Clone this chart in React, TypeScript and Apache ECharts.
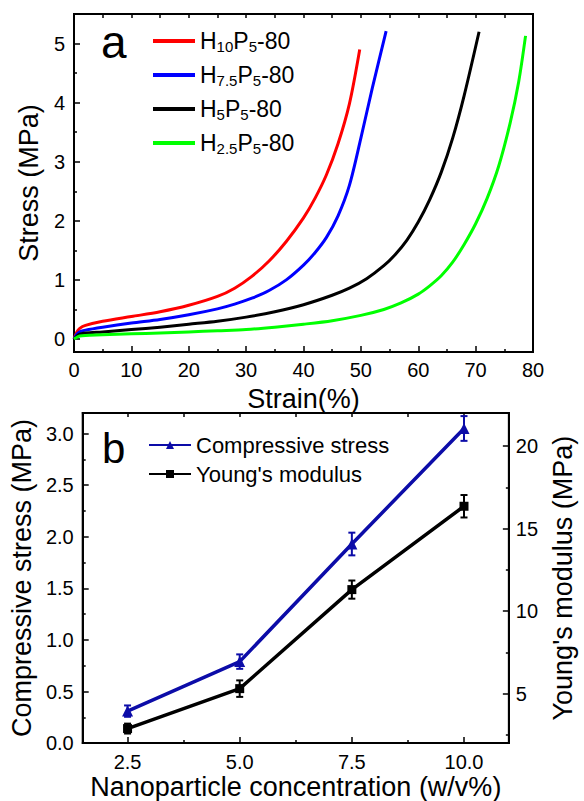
import React, { useEffect, useRef } from "react";
import * as echarts from "echarts";

// Panel a: stress-strain curves
const h10Strain = [0, 0.5, 1, 2, 5, 10, 15, 20, 25, 28, 31, 34, 37, 40, 42, 44, 46, 48, 49.8];
const h10Stress = [0, 0.12, 0.18, 0.23, 0.3, 0.38, 0.46, 0.57, 0.72, 0.86, 1.06, 1.32, 1.65, 2.05, 2.38, 2.78, 3.3, 3.98, 4.9];
const h75Strain = [0, 0.5, 1, 2, 5, 10, 15, 20, 25, 28, 31, 34, 37, 40, 42, 44, 46, 48, 50, 52, 54.4];
const h75Stress = [0, 0.08, 0.12, 0.15, 0.2, 0.27, 0.33, 0.41, 0.51, 0.59, 0.69, 0.82, 1.0, 1.25, 1.46, 1.72, 2.08, 2.6, 3.4, 4.25, 5.21];
const h5Strain = [0, 0.5, 1, 2, 5, 10, 15, 20, 25, 30, 35, 40, 45, 48, 51, 54, 56, 58, 60, 62, 64, 66, 68, 70.6];
const h5Stress = [0, 0.05, 0.08, 0.1, 0.12, 0.16, 0.2, 0.25, 0.3, 0.37, 0.46, 0.58, 0.74, 0.86, 1.02, 1.24, 1.43, 1.67, 1.98, 2.36, 2.82, 3.4, 4.12, 5.2];
const h25Strain = [0, 0.5, 1, 2, 5, 10, 15, 20, 25, 30, 35, 40, 45, 50, 54, 57, 60, 62, 64, 66, 68, 70, 72, 74, 76, 77.5, 78.7];
const h25Stress = [0, 0.03, 0.05, 0.06, 0.07, 0.09, 0.1, 0.12, 0.14, 0.16, 0.2, 0.25, 0.31, 0.4, 0.5, 0.61, 0.76, 0.9, 1.07, 1.3, 1.6, 1.95, 2.38, 2.92, 3.65, 4.35, 5.13];
const curveNames = ["H10P5-80", "H7.5P5-80", "H5P5-80", "H2.5P5-80"];
const curveLegendRich = ["H{s|10}P{s|5}-80", "H{s|7.5}P{s|5}-80", "H{s|5}P{s|5}-80", "H{s|2.5}P{s|5}-80"];
const curveColors = ["#ff0000", "#0000ff", "#000000", "#00ff00"];
const stressTicks = [0, 1, 2, 3, 4, 5];
const stressMinorTicks = [0.5, 1.5, 2.5, 3.5, 4.5];

// Panel b: compressive stress & Young's modulus
const concentration = [2.5, 5.0, 7.5, 10.0];
const compressiveStress = [0.31, 0.79, 1.93, 3.05];
const compressiveErr = [0.055, 0.07, 0.11, 0.12];
const youngsModulus = [2.88, 5.3, 11.3, 16.35];
const youngsErr = [0.3, 0.5, 0.55, 0.68];
const concTicks = [2.5, 5.0, 7.5, 10.0];
const concMinorTicks = [3.75, 6.25, 8.75];
const csTicks = [0, 0.5, 1.0, 1.5, 2.0, 2.5, 3.0];
const csMinorTicks = [0.25, 0.75, 1.25, 1.75, 2.25, 2.75];
const ymTicks = [5, 10, 15, 20];
const ymMinorTicks = [2.5, 7.5, 12.5, 17.5];

const FONT = "Liberation Sans, Arial, sans-serif";
const BLUE_B = "#0c0ca8";

const zip = (a: number[], b: number[]) => a.map((v, i) => [v, b[i]]);

function App() {
  const ref = useRef<HTMLDivElement>(null);
  useEffect(() => {
    if (!ref.current) return;
    const chart = echarts.init(ref.current, null, { renderer: "svg" });
    const axisLine = { show: true, onZero: false, lineStyle: { color: "#000", width: 2 } };
    const tickStyle = { color: "#000", width: 1.5 };
    const label = { color: "#000", fontSize: 20, fontFamily: FONT };
    const nameStyle = { color: "#000", fontSize: 27, fontFamily: FONT };

    const errorBar = (color: string) => (params: any, api: any) => {
      const x = api.value(0);
      const y = api.value(1);
      const e = api.value(2);
      const top = api.coord([x, y + e]);
      const bot = api.coord([x, y - e]);
      const w = 3.5;
      const st = { stroke: color, lineWidth: 2 };
      return {
        type: "group",
        children: [
          { type: "line", shape: { x1: top[0], y1: top[1], x2: bot[0], y2: bot[1] }, style: st },
          { type: "line", shape: { x1: top[0] - w, y1: top[1], x2: top[0] + w, y2: top[1] }, style: st },
          { type: "line", shape: { x1: bot[0] - w, y1: bot[1], x2: bot[0] + w, y2: bot[1] }, style: st },
        ],
      };
    };

    const curves = [zip(h10Strain, h10Stress), zip(h75Strain, h75Stress), zip(h5Strain, h5Stress), zip(h25Strain, h25Stress)];

    const option: any = {
      animation: false,
      backgroundColor: "#fff",
      grid: [
        { left: 74, top: 14, width: 459, height: 338, show: true, borderColor: "#000", borderWidth: 2, backgroundColor: "transparent" },
        { left: 77, top: 413, width: 449, height: 333, show: true, borderColor: "#000", borderWidth: 2, backgroundColor: "transparent" },
      ],
      xAxis: [
        {
          gridIndex: 0, type: "value", position: "bottom", min: 0, max: 80, interval: 10,
          axisLine, splitLine: { show: false },
          axisTick: { show: true, inside: true, length: 6, lineStyle: tickStyle },
          minorTick: { show: true, splitNumber: 2, length: 3, lineStyle: tickStyle },
          axisLabel: { ...label, margin: 8 },
          name: "Strain(%)", nameLocation: "middle", nameGap: 33, nameTextStyle: nameStyle,
        },
        {
          gridIndex: 0, type: "value", position: "top", min: 0, max: 80, interval: 5,
          axisLine, splitLine: { show: false },
          axisTick: { show: true, inside: true, length: 4, lineStyle: tickStyle },
          axisLabel: { show: false },
        },
        {
          gridIndex: 1, type: "value", position: "bottom", min: 1.5, max: 11,
          axisLine, splitLine: { show: false },
          axisTick: { show: true, inside: true, length: 6, lineStyle: tickStyle, customValues: concTicks },
          axisLabel: { ...label, margin: 9, customValues: concTicks, formatter: (v: number) => v.toFixed(1) },
          name: "Nanoparticle concentration (w/v%)", nameLocation: "middle", nameGap: 29, nameTextStyle: nameStyle,
        },
        {
          gridIndex: 1, type: "value", position: "bottom", min: 1.5, max: 11,
          axisLine: { show: false }, splitLine: { show: false },
          axisTick: { show: true, inside: true, length: 3, lineStyle: tickStyle, customValues: concMinorTicks },
          axisLabel: { show: false },
        },
        {
          gridIndex: 1, type: "value", position: "top", min: 1.5, max: 11,
          axisLine, splitLine: { show: false },
          axisTick: { show: true, inside: true, length: 4, lineStyle: tickStyle, customValues: [...concTicks, ...concMinorTicks] },
          axisLabel: { show: false },
        },
      ],
      yAxis: [
        {
          gridIndex: 0, type: "value", position: "left", min: -0.22, max: 5.5,
          axisLine, splitLine: { show: false },
          axisTick: { show: true, inside: true, length: 6, lineStyle: tickStyle, customValues: stressTicks },
          axisLabel: { ...label, margin: 9, customValues: stressTicks },
          name: "Stress (MPa)", nameLocation: "middle", nameGap: 30, nameTextStyle: nameStyle,
        },
        {
          gridIndex: 0, type: "value", position: "left", min: -0.22, max: 5.5,
          axisLine: { show: false }, splitLine: { show: false },
          axisTick: { show: true, inside: true, length: 3, lineStyle: tickStyle, customValues: stressMinorTicks },
          axisLabel: { show: false },
        },
        {
          gridIndex: 1, type: "value", position: "left", min: 0, max: 3.2,
          axisLine, splitLine: { show: false },
          axisTick: { show: true, inside: true, length: 6, lineStyle: tickStyle, customValues: csTicks },
          axisLabel: { ...label, margin: 9, customValues: csTicks, formatter: (v: number) => v.toFixed(1) },
          name: "Compressive stress (MPa)", nameLocation: "middle", nameGap: 42, nameTextStyle: nameStyle,
        },
        {
          gridIndex: 1, type: "value", position: "left", min: 0, max: 3.2,
          axisLine: { show: false }, splitLine: { show: false },
          axisTick: { show: true, inside: true, length: 3, lineStyle: tickStyle, customValues: csMinorTicks },
          axisLabel: { show: false },
        },
        {
          gridIndex: 1, type: "value", position: "right", min: 2, max: 22,
          axisLine, splitLine: { show: false },
          axisTick: { show: true, inside: true, length: 6, lineStyle: tickStyle, customValues: ymTicks },
          axisLabel: { ...label, margin: 7, customValues: ymTicks },
          name: "Young's modulus (MPa)", nameLocation: "middle", nameGap: 36, nameTextStyle: nameStyle,
        },
        {
          gridIndex: 1, type: "value", position: "right", min: 2, max: 22,
          axisLine: { show: false }, splitLine: { show: false },
          axisTick: { show: true, inside: true, length: 3, lineStyle: tickStyle, customValues: ymMinorTicks },
          axisLabel: { show: false },
        },
      ],
      legend: [
        {
          data: curveNames,
          orient: "vertical", left: 153, top: 28, itemGap: 8, padding: 0,
          itemWidth: 42, itemHeight: 4, icon: "rect",
          formatter: (n: string) => curveLegendRich[curveNames.indexOf(n)],
          textStyle: {
            color: "#000", fontFamily: FONT, fontSize: 23, lineHeight: 26,
            rich: {
              s: { fontSize: 15, fontFamily: FONT, color: "#000", verticalAlign: "bottom", lineHeight: 10 },
            },
          },
        },
        {
          data: ["Compressive stress", "Young's modulus"],
          orient: "vertical", left: 148, top: 433, itemGap: 5, padding: 0,
          itemWidth: 42, itemHeight: 10,
          textStyle: { color: "#000", fontFamily: FONT, fontSize: 22, lineHeight: 24 },
        },
      ],
      graphic: [
        { type: "text", left: 101, top: 19, style: { text: "a", fontSize: 46, fontFamily: FONT, fill: "#000" } },
        { type: "text", left: 102, top: 427, style: { text: "b", fontSize: 42, fontFamily: FONT, fill: "#000" } },
      ],
      series: [
        ...curves.map((d, i) => ({
          name: curveNames[i], type: "line", xAxisIndex: 0, yAxisIndex: 0, data: d,
          smooth: 0.3, showSymbol: false, symbol: "none",
          lineStyle: { color: curveColors[i], width: 3, join: "round" }, itemStyle: { color: curveColors[i] },
        })),
        {
          name: "Compressive stress", type: "line", xAxisIndex: 2, yAxisIndex: 2,
          data: zip(concentration, compressiveStress),
          symbol: "triangle", symbolSize: 11,
          lineStyle: { color: BLUE_B, width: 3.5 }, itemStyle: { color: BLUE_B },
        },
        {
          name: "Young's modulus", type: "line", xAxisIndex: 2, yAxisIndex: 4,
          data: zip(concentration, youngsModulus),
          symbol: "rect", symbolSize: 9,
          lineStyle: { color: "#000", width: 3.5 }, itemStyle: { color: "#000" },
        },
        {
          type: "custom", xAxisIndex: 2, yAxisIndex: 2,
          data: concentration.map((c, i) => [c, compressiveStress[i], compressiveErr[i]]),
          renderItem: errorBar(BLUE_B), z: 5,
        },
        {
          type: "custom", xAxisIndex: 2, yAxisIndex: 4,
          data: concentration.map((c, i) => [c, youngsModulus[i], youngsErr[i]]),
          renderItem: errorBar("#000"), z: 5,
        },
      ],
    };
    chart.setOption(option);
    return () => chart.dispose();
  }, []);
  return (
    <div
      ref={ref}
      style={{ position: "fixed", left: 0, top: 0, width: 584, height: 801, background: "#fff" }}
    />
  );
}

export default App;
